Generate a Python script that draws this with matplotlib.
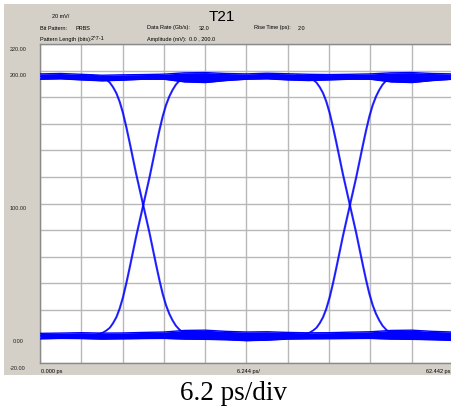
import matplotlib
matplotlib.use("Agg")
import matplotlib.pyplot as plt
import matplotlib.transforms as mtransforms
from matplotlib.patches import Rectangle
import numpy as np

W, H = 452, 407

# time axis (ps) and amplitude axis (mV)
t_span = 62.442
t_div = 6.2442
y_min, y_max = -20, 220
crossings = [15.55, 46.8]

# falling edge shape: offset from crossing (ps) -> mV
edge_dt = [-8, -7.5, -7, -6.5, -6, -5.5, -5, -4.5, -4, -3.5, -3, -2.5, -2, -1.5, -1, -0.5,
           0, 0.5, 1, 1.5, 2, 2.5, 3, 3.5, 4, 4.5, 5, 5.5, 6, 6.5, 7, 7.5, 8]
fall_v = [196.5, 196.3, 196.0, 195.4, 194.5, 193.0, 191.0, 187.5, 183.0, 176.5, 168.0,
          157.5, 146.0, 134.0, 122.0, 111.0, 100.0, 89.0, 78.0, 66.0, 54.0, 42.5, 32.0,
          23.5, 17.0, 12.0, 8.0, 5.3, 3.3, 2.2, 1.6, 1.2, 1.0]
level_sum = 197.5  # top + bottom level, mirrors the falling edge into a rising one

# rails (upper / middle / lower trace of each band), sampled every half division
rail_t = [0, 3.12, 6.24, 9.37, 12.49, 15.61, 18.73, 21.85, 24.98, 28.10, 31.22,
          34.34, 37.47, 40.59, 43.71, 46.83, 49.95, 53.08, 56.20, 59.32, 62.44]
top_a = [197.5, 197.8, 197.2, 196.5, 196.8, 197, 197.3, 198.3, 198.5, 197.8, 197.5,
         198, 197.6, 197.2, 197, 197.2, 197.5, 198.3, 198.5, 197.8, 197.5]
top_b = [195.6, 195.8, 195.2, 194.6, 194.9, 195.3, 195.5, 195, 194.8, 195.2, 195.5,
         195.8, 195.3, 194.8, 195, 195.4, 195.5, 195, 194.8, 195.2, 195.5]
top_c = [193.5, 193.8, 193, 192.3, 192.8, 193.5, 193.5, 191.5, 191, 192.5, 193.5,
         193.8, 193, 192.5, 193, 193.5, 193.5, 191.5, 191, 192.5, 193.5]
bot_a = [2.3, 2.5, 2.8, 2.5, 2.6, 3, 3.3, 4.5, 4.7, 3.8, 3.3,
         3.5, 3, 2.7, 2.8, 3.2, 3.5, 4.5, 4.7, 3.8, 3.3]
bot_b = [0.4, 0.6, 0.8, 0.5, 0.4, 0.6, 0.9, 1.5, 1.6, 0.8, 0.2,
         0.5, 0.7, 0.4, 0.5, 0.7, 0.9, 1.5, 1.6, 0.8, 0.2]
bot_c = [-1.8, -1.5, -1.6, -2, -1.8, -1.6, -1.5, -2, -2.2, -2.5, -3.2,
         -2.8, -2, -1.8, -1.7, -1.6, -1.5, -2, -2.2, -2.5, -3]

y_label_vals = [220, 200, 100, 0, -20]


def px(x, y):
    return x / W, 1 - y / H


fig = plt.figure(figsize=(W / 100, H / 100), dpi=100)
fig.patch.set_facecolor("white")
fig.patches.append(Rectangle(px(4, 375), 448 / W, 371 / H, transform=fig.transFigure,
                             facecolor="#d4d0c8", edgecolor="none", zorder=-5))

ax = fig.add_axes([40 / W, 1 - 363 / H, 413 / W, 319 / H])
ax.set_zorder(2)
ax.set_facecolor("white")
ax.set_xlim(0, t_span)
ax.set_ylim(y_min, y_max)
ax.set_xticks(np.arange(0, t_span + 0.01, t_div))
ax.set_yticks(np.arange(y_min, y_max + 1, 20))
ax.tick_params(length=0, labelleft=False, labelbottom=False)
ax.grid(True, color="#b8b8b8", lw=1.0)
ax.set_axisbelow(True)
for s in ax.spines.values():
    s.set_color("#8a8a8a")
    s.set_linewidth(1.0)

blue = "#0000ff"
for hi, mid, lo in ((top_a, top_b, top_c), (bot_a, bot_b, bot_c)):
    ax.fill_between(rail_t, lo, hi, color=blue, lw=0, zorder=3)
    for r in (hi, mid, lo):
        ax.plot(rail_t, r, color=blue, lw=1.0, zorder=3)

dt = np.array(edge_dt)
fv = np.array(fall_v)
for c in crossings:
    for off in (-0.06, 0.06):
        ax.plot(c + dt + off, fv, color=blue, lw=1.0, alpha=0.8, zorder=3)
        ax.plot(c + dt - off, level_sum - fv, color=blue, lw=1.0, alpha=0.8, zorder=3)

# y labels, sitting a little below their gridlines
shift = mtransforms.ScaledTranslation(0, -5 / 100, fig.dpi_scale_trans)
for v in y_label_vals:
    ax.text(-22 / 413, v, f"{v:.2f}", transform=ax.get_yaxis_transform() + shift,
            ha="center", va="center", fontsize=4, color="#222222",
            family="Liberation Sans", clip_on=False)

# x labels
fs = 4
fig.text(*px(41, 371), "0.000 ps", ha="left", va="center", fontsize=fs, family="Liberation Sans")
fig.text(*px(248, 371), "6.244 ps/", ha="center", va="center", fontsize=fs, family="Liberation Sans")
fig.text(*px(450, 371), "62.442 ps", ha="right", va="center", fontsize=fs, family="Liberation Sans")

# header
fig.text(*px(222, 17), "T21", ha="center", va="center", fontsize=11, family="Liberation Sans")
header = [
    (52, 17, "20 mV/"),
    (40, 28, "Bit Pattern:"), (76, 28, "PRBS"),
    (40, 39, "Pattern Length (bits):"), (91, 39, "2^7-1"),
    (147, 28, "Data Rate (Gb/s):"), (199, 28, "32.0"),
    (147, 39, "Amplitude (mV):"), (189, 39, "0.0 , 200.0"),
    (254, 28, "Rise Time (ps):"), (298, 28, "2.0"),
]
for x, y, s in header:
    fig.text(*px(x, y), s, ha="left", va="center", fontsize=fs, family="Liberation Sans")

fig.text(*px(234, 400), "6.2 ps/div", ha="center", va="baseline", fontsize=19.5,
         family="Liberation Serif")

fig.savefig("out.png", dpi=100)
